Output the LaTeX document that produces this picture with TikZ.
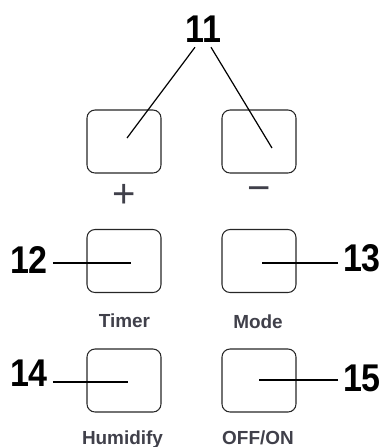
\documentclass[tikz,border=0pt]{standalone}
\usepackage{fontspec}
\setmainfont{Liberation Sans}
\usepackage{tikz}
\definecolor{keygray}{RGB}{64,64,74}
\tikzset{
  keybtn/.style={draw=black!85, line width=0.8pt, rounded corners=6pt,
    minimum width=55.5pt, minimum height=47.25pt, inner sep=0pt},
  callout/.style={font=\fontsize{29}{29}\selectfont\bfseries\addfontfeature{FakeStretch=0.88},
    inner sep=3.5pt},
  keyname/.style={font=\fontsize{14.2}{14.2}\selectfont\bfseries,
    text=keygray, anchor=base, inner sep=0pt},
  sign/.style={font=\fontsize{30}{30}\selectfont, text=keygray, inner sep=0pt},
  leader/.style={draw=black, line width=0.9pt}
}

\begin{document}
\begin{tikzpicture}[x=7.5pt, y=-7.5pt]
  \useasboundingbox (0,0) rectangle (38.4,44.7);

  % buttons
  \node[keybtn] (plus)  at (12.4,14.15) {};
  \node[keybtn] (minus) at (25.9,14.15) {};
  \node[keybtn] (timer) at (12.4,26.1) {};
  \node[keybtn] (mode)  at (25.9,26.1) {};
  \node[keybtn] (humid) at (12.4,38.05) {};
  \node[keybtn] (power) at (25.9,38.05) {};

  % signs and key names
  \node[sign] (plussign)  at (12.4,19.6) {+};
  \node[sign] (minussign) at (25.9,19.4) {−};
  \node[keyname] (timertext) at (12.45,32.7) {Timer};
  \node[keyname] (modetext)  at (25.8,32.8) {Mode};
  \node[keyname] (humidtext) at (12.25,44.4) {Humidify};
  \node[keyname] (powertext) at (25.8,44.4) {OFF/ON};

  % callout numbers
  \node[callout] (n11) at (20.3,2.9) {11};
  \node[callout] (n12) at (2.9,26.0) {12};
  \node[callout] (n13) at (36.2,25.85) {13};
  \node[callout] (n14) at (2.9,37.3) {14};
  \node[callout] (n15) at (36.2,37.8) {15};

  % leader ends inside the buttons
  \coordinate (tipPlus)  at (12.7,13.8);
  \coordinate (tipMinus) at (27.2,14.8);
  \coordinate (tip12) at (13.1,26.3);
  \coordinate (tip13) at (26.2,26.3);
  \coordinate (tip14) at (12.8,38.2);
  \coordinate (tip15) at (25.9,38.0);

  \draw[leader] ([xshift=-6pt]n11.south) -- (tipPlus);
  \draw[leader] ([xshift=6pt]n11.south) -- (tipMinus);
  \draw[leader] (n12.east |- tip12) -- (tip12);
  \draw[leader] (n13.west |- tip13) -- (tip13);
  \draw[leader] (n14.east |- tip14) -- (tip14);
  \draw[leader] (n15.west |- tip15) -- (tip15);
\end{tikzpicture}
\end{document}
